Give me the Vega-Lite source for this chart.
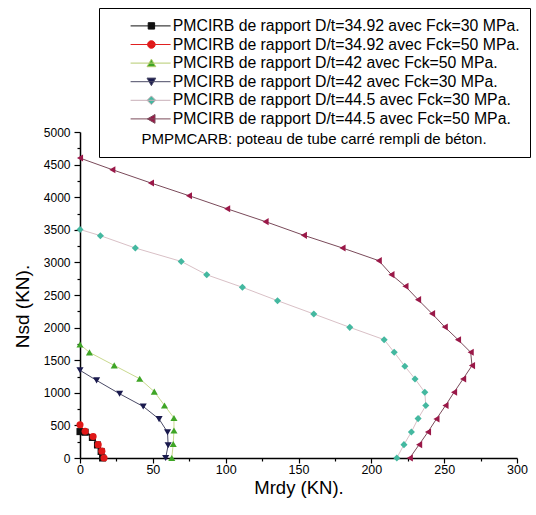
{
  "$schema": "https://vega.github.io/schema/vega-lite/v6.json",
  "width": 437,
  "height": 326,
  "autosize": {"type": "none"},
  "padding": {"left": 80, "top": 132, "right": 19, "bottom": 57},
  "background": "white",
  "config": {
    "view": {"stroke": null},
    "font": "Liberation Sans",
    "axis": {"grid": false, "domainColor": "#000", "domainWidth": 1.5, "tickColor": "#000", "tickWidth": 1.2, "labelColor": "#000", "titleColor": "#000", "labelFont": "Liberation Sans", "titleFont": "Liberation Sans", "titleFontWeight": "normal", "labelOverlap": false, "labelFlush": false}
  },
  "data": {
    "values": [
      {"s": "PMCIRB de rapport D/t=34.92 avec Fck=30 MPa.", "i": 0, "x": 0, "y": 405},
      {"s": "PMCIRB de rapport D/t=34.92 avec Fck=30 MPa.", "i": 1, "x": 3.5, "y": 395},
      {"s": "PMCIRB de rapport D/t=34.92 avec Fck=30 MPa.", "i": 2, "x": 8.5, "y": 315},
      {"s": "PMCIRB de rapport D/t=34.92 avec Fck=30 MPa.", "i": 3, "x": 12, "y": 200},
      {"s": "PMCIRB de rapport D/t=34.92 avec Fck=30 MPa.", "i": 4, "x": 14.5, "y": 100},
      {"s": "PMCIRB de rapport D/t=34.92 avec Fck=30 MPa.", "i": 5, "x": 15.5, "y": 0},
      {"s": "PMCIRB de rapport D/t=34.92 avec Fck=50 MPa.", "i": 0, "x": 0, "y": 510},
      {"s": "PMCIRB de rapport D/t=34.92 avec Fck=50 MPa.", "i": 1, "x": 3.5, "y": 410},
      {"s": "PMCIRB de rapport D/t=34.92 avec Fck=50 MPa.", "i": 2, "x": 9, "y": 330},
      {"s": "PMCIRB de rapport D/t=34.92 avec Fck=50 MPa.", "i": 3, "x": 12.5, "y": 205},
      {"s": "PMCIRB de rapport D/t=34.92 avec Fck=50 MPa.", "i": 4, "x": 15, "y": 105},
      {"s": "PMCIRB de rapport D/t=34.92 avec Fck=50 MPa.", "i": 5, "x": 16.5, "y": 0},
      {"s": "PMCIRB de rapport D/t=42 avec Fck=50 MPa.", "i": 0, "x": 0, "y": 1740},
      {"s": "PMCIRB de rapport D/t=42 avec Fck=50 MPa.", "i": 1, "x": 6.5, "y": 1620},
      {"s": "PMCIRB de rapport D/t=42 avec Fck=50 MPa.", "i": 2, "x": 23.5, "y": 1420},
      {"s": "PMCIRB de rapport D/t=42 avec Fck=50 MPa.", "i": 3, "x": 41, "y": 1215},
      {"s": "PMCIRB de rapport D/t=42 avec Fck=50 MPa.", "i": 4, "x": 51, "y": 1018},
      {"s": "PMCIRB de rapport D/t=42 avec Fck=50 MPa.", "i": 5, "x": 58, "y": 806},
      {"s": "PMCIRB de rapport D/t=42 avec Fck=50 MPa.", "i": 6, "x": 64.5, "y": 614},
      {"s": "PMCIRB de rapport D/t=42 avec Fck=50 MPa.", "i": 7, "x": 64.5, "y": 422},
      {"s": "PMCIRB de rapport D/t=42 avec Fck=50 MPa.", "i": 8, "x": 64, "y": 215},
      {"s": "PMCIRB de rapport D/t=42 avec Fck=50 MPa.", "i": 9, "x": 63, "y": 0},
      {"s": "PMCIRB de rapport D/t=42 avec Fck=30 MPa.", "i": 0, "x": 0, "y": 1345},
      {"s": "PMCIRB de rapport D/t=42 avec Fck=30 MPa.", "i": 1, "x": 11.4, "y": 1190},
      {"s": "PMCIRB de rapport D/t=42 avec Fck=30 MPa.", "i": 2, "x": 27.2, "y": 985},
      {"s": "PMCIRB de rapport D/t=42 avec Fck=30 MPa.", "i": 3, "x": 43.4, "y": 790},
      {"s": "PMCIRB de rapport D/t=42 avec Fck=30 MPa.", "i": 4, "x": 54.3, "y": 597},
      {"s": "PMCIRB de rapport D/t=42 avec Fck=30 MPa.", "i": 5, "x": 60.1, "y": 395},
      {"s": "PMCIRB de rapport D/t=42 avec Fck=30 MPa.", "i": 6, "x": 60.5, "y": 195},
      {"s": "PMCIRB de rapport D/t=42 avec Fck=30 MPa.", "i": 7, "x": 58.8, "y": 0},
      {"s": "PMCIRB de rapport D/t=44.5 avec Fck=30 MPa.", "i": 0, "x": 0, "y": 3505},
      {"s": "PMCIRB de rapport D/t=44.5 avec Fck=30 MPa.", "i": 1, "x": 14, "y": 3410},
      {"s": "PMCIRB de rapport D/t=44.5 avec Fck=30 MPa.", "i": 2, "x": 38, "y": 3220},
      {"s": "PMCIRB de rapport D/t=44.5 avec Fck=30 MPa.", "i": 3, "x": 69.5, "y": 3015},
      {"s": "PMCIRB de rapport D/t=44.5 avec Fck=30 MPa.", "i": 4, "x": 87, "y": 2810},
      {"s": "PMCIRB de rapport D/t=44.5 avec Fck=30 MPa.", "i": 5, "x": 111.5, "y": 2618},
      {"s": "PMCIRB de rapport D/t=44.5 avec Fck=30 MPa.", "i": 6, "x": 135.6, "y": 2413},
      {"s": "PMCIRB de rapport D/t=44.5 avec Fck=30 MPa.", "i": 7, "x": 160.5, "y": 2209},
      {"s": "PMCIRB de rapport D/t=44.5 avec Fck=30 MPa.", "i": 8, "x": 185.2, "y": 2004},
      {"s": "PMCIRB de rapport D/t=44.5 avec Fck=30 MPa.", "i": 9, "x": 208.8, "y": 1815},
      {"s": "PMCIRB de rapport D/t=44.5 avec Fck=30 MPa.", "i": 10, "x": 215.7, "y": 1621},
      {"s": "PMCIRB de rapport D/t=44.5 avec Fck=30 MPa.", "i": 11, "x": 223, "y": 1406},
      {"s": "PMCIRB de rapport D/t=44.5 avec Fck=30 MPa.", "i": 12, "x": 230, "y": 1213},
      {"s": "PMCIRB de rapport D/t=44.5 avec Fck=30 MPa.", "i": 13, "x": 236.7, "y": 1008},
      {"s": "PMCIRB de rapport D/t=44.5 avec Fck=30 MPa.", "i": 14, "x": 237.4, "y": 804},
      {"s": "PMCIRB de rapport D/t=44.5 avec Fck=30 MPa.", "i": 15, "x": 232.1, "y": 604},
      {"s": "PMCIRB de rapport D/t=44.5 avec Fck=30 MPa.", "i": 16, "x": 227.5, "y": 400},
      {"s": "PMCIRB de rapport D/t=44.5 avec Fck=30 MPa.", "i": 17, "x": 222.4, "y": 205},
      {"s": "PMCIRB de rapport D/t=44.5 avec Fck=30 MPa.", "i": 18, "x": 217.5, "y": 0},
      {"s": "PMCIRB de rapport D/t=44.5 avec Fck=50 MPa.", "i": 0, "x": 0, "y": 4600},
      {"s": "PMCIRB de rapport D/t=44.5 avec Fck=50 MPa.", "i": 1, "x": 22.2, "y": 4422},
      {"s": "PMCIRB de rapport D/t=44.5 avec Fck=50 MPa.", "i": 2, "x": 48.7, "y": 4218},
      {"s": "PMCIRB de rapport D/t=44.5 avec Fck=50 MPa.", "i": 3, "x": 74.8, "y": 4023},
      {"s": "PMCIRB de rapport D/t=44.5 avec Fck=50 MPa.", "i": 4, "x": 101, "y": 3822},
      {"s": "PMCIRB de rapport D/t=44.5 avec Fck=50 MPa.", "i": 5, "x": 127.4, "y": 3625},
      {"s": "PMCIRB de rapport D/t=44.5 avec Fck=50 MPa.", "i": 6, "x": 153.7, "y": 3415},
      {"s": "PMCIRB de rapport D/t=44.5 avec Fck=50 MPa.", "i": 7, "x": 180.2, "y": 3221},
      {"s": "PMCIRB de rapport D/t=44.5 avec Fck=50 MPa.", "i": 8, "x": 205.1, "y": 3027},
      {"s": "PMCIRB de rapport D/t=44.5 avec Fck=50 MPa.", "i": 9, "x": 213.8, "y": 2812},
      {"s": "PMCIRB de rapport D/t=44.5 avec Fck=50 MPa.", "i": 10, "x": 223.4, "y": 2633},
      {"s": "PMCIRB de rapport D/t=44.5 avec Fck=50 MPa.", "i": 11, "x": 232.1, "y": 2429},
      {"s": "PMCIRB de rapport D/t=44.5 avec Fck=50 MPa.", "i": 12, "x": 241.7, "y": 2214},
      {"s": "PMCIRB de rapport D/t=44.5 avec Fck=50 MPa.", "i": 13, "x": 250.4, "y": 2010},
      {"s": "PMCIRB de rapport D/t=44.5 avec Fck=50 MPa.", "i": 14, "x": 259.5, "y": 1815},
      {"s": "PMCIRB de rapport D/t=44.5 avec Fck=50 MPa.", "i": 15, "x": 268.2, "y": 1621},
      {"s": "PMCIRB de rapport D/t=44.5 avec Fck=50 MPa.", "i": 16, "x": 269.1, "y": 1417},
      {"s": "PMCIRB de rapport D/t=44.5 avec Fck=50 MPa.", "i": 17, "x": 263, "y": 1213},
      {"s": "PMCIRB de rapport D/t=44.5 avec Fck=50 MPa.", "i": 18, "x": 256.8, "y": 1008},
      {"s": "PMCIRB de rapport D/t=44.5 avec Fck=50 MPa.", "i": 19, "x": 250.9, "y": 804},
      {"s": "PMCIRB de rapport D/t=44.5 avec Fck=50 MPa.", "i": 20, "x": 244.7, "y": 599},
      {"s": "PMCIRB de rapport D/t=44.5 avec Fck=50 MPa.", "i": 21, "x": 238.9, "y": 400},
      {"s": "PMCIRB de rapport D/t=44.5 avec Fck=50 MPa.", "i": 22, "x": 232.8, "y": 205},
      {"s": "PMCIRB de rapport D/t=44.5 avec Fck=50 MPa.", "i": 23, "x": 226.4, "y": 0}
    ]
  },
  "encoding": {
    "x": {
      "field": "x", "type": "quantitative",
      "scale": {"domain": [0, 300], "nice": false, "zero": false},
      "axis": {
        "title": "Mrdy (KN).", "titleFontSize": 18.5, "titleBaseline": "alphabetic", "titleY": 35.5,
        "values": [0, 25, 50, 75, 100, 125, 150, 175, 200, 225, 250, 275, 300],
        "labelExpr": "datum.value % 50 === 0 ? datum.label : ''",
        "tickSize": {"condition": {"test": "datum.value % 50 === 0", "value": 5}, "value": 3},
        "labelFontSize": 12.5, "labelPadding": 0, "format": "d"
      }
    },
    "y": {
      "field": "y", "type": "quantitative",
      "scale": {"domain": [0, 5000], "nice": false, "zero": false},
      "axis": {
        "title": "Nsd (KN).", "titleFontSize": 19, "titleAngle": 270, "titleX": -58, "titleY": 174, "titleAlign": "center", "titleBaseline": "middle",
        "values": [0, 250, 500, 750, 1000, 1250, 1500, 1750, 2000, 2250, 2500, 2750, 3000, 3250, 3500, 3750, 4000, 4250, 4500, 4750, 5000],
        "labelExpr": "datum.value % 500 === 0 ? datum.label : ''",
        "tickSize": {"condition": {"test": "datum.value % 500 === 0", "value": 6}, "value": 3},
        "labelFontSize": 12, "labelPadding": 4, "format": "d"
      }
    }
  },
  "resolve": {"scale": {"color": "independent", "stroke": "independent", "shape": "independent"}},
  "layer": [
    {
      "mark": {"type": "line", "strokeWidth": 1, "clip": false},
      "encoding": {
        "order": {"field": "i", "type": "quantitative"},
        "stroke": {
          "field": "s", "type": "nominal", "legend": null,
          "scale": {
            "domain": ["PMCIRB de rapport D/t=34.92 avec Fck=30 MPa.", "PMCIRB de rapport D/t=34.92 avec Fck=50 MPa.", "PMCIRB de rapport D/t=42 avec Fck=50 MPa.", "PMCIRB de rapport D/t=42 avec Fck=30 MPa.", "PMCIRB de rapport D/t=44.5 avec Fck=30 MPa.", "PMCIRB de rapport D/t=44.5 avec Fck=50 MPa."],
            "range": ["#111111", "#e02020", "#c9d98e", "#4a4a66", "#d9c0c6", "#7a4a5a"]
          }
        }
      }
    },
    {
      "mark": {"type": "point", "filled": true, "opacity": 1, "size": 50, "clip": false},
      "encoding": {
        "color": {
          "field": "s", "type": "nominal", "legend": null,
          "scale": {
            "domain": ["PMCIRB de rapport D/t=34.92 avec Fck=30 MPa.", "PMCIRB de rapport D/t=34.92 avec Fck=50 MPa.", "PMCIRB de rapport D/t=42 avec Fck=50 MPa.", "PMCIRB de rapport D/t=42 avec Fck=30 MPa.", "PMCIRB de rapport D/t=44.5 avec Fck=30 MPa.", "PMCIRB de rapport D/t=44.5 avec Fck=50 MPa."],
            "range": ["#111111", "#e01818", "#3fa526", "#1a1a4e", "#44b8a0", "#9a1848"]
          }
        },
        "shape": {
          "field": "s", "type": "nominal", "legend": null,
          "scale": {
            "domain": ["PMCIRB de rapport D/t=34.92 avec Fck=30 MPa.", "PMCIRB de rapport D/t=34.92 avec Fck=50 MPa.", "PMCIRB de rapport D/t=42 avec Fck=50 MPa.", "PMCIRB de rapport D/t=42 avec Fck=30 MPa.", "PMCIRB de rapport D/t=44.5 avec Fck=30 MPa.", "PMCIRB de rapport D/t=44.5 avec Fck=50 MPa."],
            "range": ["square", "circle", "triangle-up", "triangle-down", "diamond", "triangle-left"]
          }
        }
      }
    },
    {
      "transform": [{"filter": "false"}],
      "mark": {"type": "point", "filled": true, "opacity": 1, "clip": false},
      "encoding": {
        "color": {
          "field": "s", "type": "nominal",
          "scale": {
            "domain": ["PMCIRB de rapport D/t=34.92 avec Fck=30 MPa.", "PMCIRB de rapport D/t=34.92 avec Fck=50 MPa.", "PMCIRB de rapport D/t=42 avec Fck=50 MPa.", "PMCIRB de rapport D/t=42 avec Fck=30 MPa.", "PMCIRB de rapport D/t=44.5 avec Fck=30 MPa.", "PMCIRB de rapport D/t=44.5 avec Fck=50 MPa."],
            "range": ["#111111", "#e01818", "#3fa526", "#1a1a4e", "#44b8a0", "#9a1848"]
          },
          "legend": {
            "orient": "none", "legendX": 19, "legendY": -124,
            "title": "PMPMCARB: poteau de tube carré rempli de béton.",
            "titleOrient": "bottom", "titleAnchor": "middle", "titleFontSize": 15, "titleFontWeight": "normal", "titleColor": "#000", "titlePadding": 5, "titleLimit": 600,
            "labelFontSize": 15.8, "labelColor": "#000", "labelLimit": 600, "labelOffset": 13.5,
            "symbolSize": 64, "symbolOffset": 34.5, "symbolStrokeWidth": 1, "rowPadding": 1.6,
            "padding": 10, "strokeColor": "#000", "fillColor": "#fff"
          }
        },
        "stroke": {
          "field": "s", "type": "nominal",
          "scale": {
            "domain": ["PMCIRB de rapport D/t=34.92 avec Fck=30 MPa.", "PMCIRB de rapport D/t=34.92 avec Fck=50 MPa.", "PMCIRB de rapport D/t=42 avec Fck=50 MPa.", "PMCIRB de rapport D/t=42 avec Fck=30 MPa.", "PMCIRB de rapport D/t=44.5 avec Fck=30 MPa.", "PMCIRB de rapport D/t=44.5 avec Fck=50 MPa."],
            "range": ["#111111", "#e02020", "#b5cc70", "#4a4a66", "#c8b0b8", "#7a4a5a"]
          },
          "legend": {"title": "PMPMCARB: poteau de tube carré rempli de béton."}
        },
        "shape": {
          "field": "s", "type": "nominal",
          "scale": {
            "domain": ["PMCIRB de rapport D/t=34.92 avec Fck=30 MPa.", "PMCIRB de rapport D/t=34.92 avec Fck=50 MPa.", "PMCIRB de rapport D/t=42 avec Fck=50 MPa.", "PMCIRB de rapport D/t=42 avec Fck=30 MPa.", "PMCIRB de rapport D/t=44.5 avec Fck=30 MPa.", "PMCIRB de rapport D/t=44.5 avec Fck=50 MPa."],
            "range": ["M-5.2,0H4.8M-0.8,-0.8H0.8V0.8H-0.8Z", "M-5.2,0H4.8M0.95,0A0.95,0.95,0,1,1,-0.95,0A0.95,0.95,0,1,1,0.95,0Z", "M-5.2,0H4.8M0,-1L1.1,0.9H-1.1Z", "M-5.2,0H4.8M0,1L1.1,-0.9H-1.1Z", "M-5.2,0H4.8M0,-1.1L1.1,0L0,1.1L-1.1,0Z", "M-5.2,0H4.8M-1,0L0.9,-1.1V1.1Z"]
          },
          "legend": {"title": "PMPMCARB: poteau de tube carré rempli de béton."}
        }
      }
    }
  ]
}
